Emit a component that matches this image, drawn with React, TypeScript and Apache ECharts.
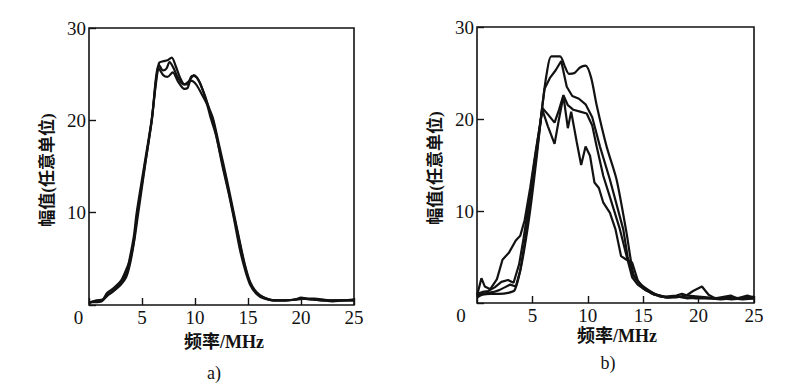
import React, { useEffect, useRef } from "react";
import * as echarts from "echarts";

// ---------- Panel a) ----------
const a1Freq = [0, 0.6, 1.2, 1.7, 2.3, 3.0, 3.5, 3.9, 4.25, 4.5, 5.2, 5.9, 6.6, 7.0, 7.4, 7.8, 8.2, 8.6, 9.0, 9.4, 9.9, 10.4, 10.9, 11.4, 11.7, 12.3, 13.0, 13.6, 14.2, 14.7, 15.2, 15.8, 16.5, 17.5, 18.5, 19.5, 20.0, 20.6, 21.3, 22.0, 23.0, 24.0, 25.0];
const a1Amp = [0.3, 0.4, 0.5, 1.0, 1.5, 2.4, 3.4, 5.4, 7.6, 10.0, 15.0, 20.0, 26.2, 26.4, 26.5, 26.8, 25.8, 24.6, 23.9, 24.2, 24.9, 24.2, 22.7, 21.0, 20.0, 16.8, 13.2, 10.0, 6.8, 4.2, 2.4, 1.3, 0.8, 0.5, 0.5, 0.6, 0.8, 0.7, 0.7, 0.6, 0.5, 0.5, 0.6];

const a2Freq = [0, 0.7, 1.3, 1.7, 2.3, 3.0, 3.5, 3.9, 4.25, 4.5, 5.2, 5.9, 6.6, 7.0, 7.3, 7.6, 8.0, 8.4, 8.9, 9.3, 9.7, 10.2, 10.8, 11.3, 11.7, 12.3, 13.0, 13.6, 14.2, 14.7, 15.2, 15.8, 16.5, 17.5, 18.5, 19.5, 20.2, 21.0, 22.0, 23.0, 24.0, 25.0];
const a2Amp = [0.2, 0.5, 0.6, 1.3, 1.8, 2.6, 3.8, 5.0, 7.0, 9.5, 14.6, 19.8, 26.0, 25.4, 25.6, 26.3, 25.6, 24.6, 23.9, 23.9, 24.8, 24.6, 23.1, 21.4, 20.2, 17.2, 13.6, 10.3, 7.0, 4.4, 2.5, 1.4, 0.8, 0.5, 0.5, 0.6, 0.7, 0.6, 0.5, 0.5, 0.5, 0.5];

const a3Freq = [0, 0.6, 1.2, 1.8, 2.4, 3.0, 3.5, 3.9, 4.3, 4.6, 5.3, 5.9, 6.6, 7.0, 7.4, 7.9, 8.4, 9.0, 9.3, 9.6, 10.1, 10.6, 11.1, 11.5, 12.0, 12.6, 13.2, 13.7, 14.2, 14.7, 15.2, 15.8, 16.5, 17.5, 18.5, 19.5, 20.3, 21.0, 22.0, 23.0, 24.0, 25.0];
const a3Amp = [0.3, 0.3, 0.4, 1.1, 1.6, 2.2, 3.0, 4.6, 7.2, 9.6, 15.2, 19.8, 25.6, 24.9, 24.7, 25.2, 24.2, 23.4, 23.5, 24.3, 23.9, 22.9, 21.8, 20.2, 18.3, 15.0, 12.0, 9.2, 6.2, 3.9, 2.2, 1.2, 0.7, 0.5, 0.5, 0.6, 0.7, 0.6, 0.5, 0.4, 0.5, 0.5];

// ---------- Panel b) ----------
const b1Freq = [0, 0.5, 1.2, 2.0, 2.8, 3.4, 3.9, 4.4, 4.9, 5.4, 5.9, 6.3, 6.7, 7.5, 7.9, 8.3, 8.8, 9.3, 9.8, 10.3, 10.8, 11.7, 12.6, 13.5, 14.1, 14.5, 15.0, 15.9, 16.5, 17.3, 18.0, 19.0, 20.0, 21.0, 22.0, 23.0, 24.0, 25.0];
const b1Amp = [0.6, 0.9, 1.0, 1.0, 1.1, 1.4, 3.5, 6.8, 11.0, 16.0, 21.5, 25.0, 26.8, 26.8, 25.8, 24.9, 25.0, 25.6, 25.8, 24.5, 21.5, 17.0, 13.4, 7.6, 3.2, 2.4, 1.8, 1.1, 0.8, 0.6, 0.7, 0.6, 0.5, 0.5, 0.5, 0.4, 0.5, 0.5];

const b2Freq = [0, 0.5, 1.0, 1.6, 2.2, 2.8, 3.3, 3.8, 4.2, 4.7, 5.2, 5.7, 6.1, 6.6, 7.1, 7.6, 8.1, 8.6, 9.2, 9.8, 10.4, 11.1, 12.0, 13.2, 13.6, 14.1, 14.6, 15.2, 16.0, 17.0, 18.0, 18.5, 19.0, 20.0, 21.0, 22.0, 23.0, 24.0, 25.0];
const b2Amp = [1.0, 1.2, 1.3, 1.7, 2.3, 2.5, 2.2, 4.2, 7.0, 11.0, 15.5, 19.5, 23.3, 24.5, 25.3, 26.3, 23.5, 22.5, 22.2, 21.6, 20.2, 17.0, 13.4, 8.0, 5.0, 3.0, 2.2, 1.5, 0.9, 0.7, 0.8, 1.0, 0.8, 0.7, 0.6, 0.5, 0.6, 0.5, 0.7];

const b3Freq = [0, 0.5, 1.0, 1.5, 2.0, 2.5, 3.0, 3.5, 3.9, 4.3, 4.8, 5.3, 5.9, 6.4, 7.0, 7.4, 7.8, 8.2, 8.7, 9.3, 9.9, 10.4, 10.8, 11.4, 12.0, 12.9, 13.5, 14.0, 14.5, 15.2, 16.0, 17.0, 18.0, 19.0, 19.5, 20.3, 20.9, 21.5, 22.9, 23.5, 24.4, 25.0];
const b3Amp = [0.8, 1.0, 1.1, 1.2, 1.4, 1.7, 2.0, 1.8, 3.5, 6.5, 11.0, 15.5, 21.2, 20.5, 19.6, 21.0, 22.6, 21.5, 21.0, 20.8, 20.6, 19.3, 17.0, 13.8, 11.5, 8.0, 5.1, 2.8, 2.0, 1.4, 1.0, 0.6, 0.6, 0.9, 1.3, 1.8, 0.9, 0.5, 0.8, 0.5, 0.8, 0.6];

const b4Freq = [0, 0.4, 0.7, 1.2, 1.8, 2.3, 2.9, 3.5, 3.9, 4.3, 4.8, 5.3, 5.9, 6.4, 7.0, 7.4, 7.8, 8.2, 8.5, 9.0, 9.4, 9.8, 10.2, 10.6, 11.0, 11.4, 12.0, 12.5, 13.0, 13.5, 14.0, 14.5, 15.0, 15.8, 16.5, 17.3, 18.2, 19.0, 20.0, 21.0, 22.0, 23.0, 24.0, 25.0];
const b4Amp = [0.8, 2.7, 1.8, 1.5, 2.6, 4.7, 5.5, 6.8, 7.3, 9.0, 12.5, 16.5, 21.0, 19.2, 17.3, 20.0, 22.5, 19.0, 20.8, 17.5, 15.0, 17.0, 16.0, 13.1, 12.5, 10.9, 9.8, 8.0, 5.1, 4.7, 4.4, 2.5, 1.6, 1.0, 0.7, 0.6, 0.7, 0.5, 0.6, 0.5, 0.4, 0.5, 0.4, 0.5];

const xTicks = [0, 5, 10, 15, 20, 25];
const yTicks = [0, 10, 20, 30];
const yName = "幅值(任意单位)";
const xName = "频率/MHz";
const panelNames = ["a)", "b)"];

const zip = (xs: number[], ys: number[]) => xs.map((x, i) => [x, ys[i]]);

const SERIF = "'Liberation Serif', 'DejaVu Serif', serif";
const CJK = "'Liberation Serif', 'Noto Sans CJK SC', serif";
const INK = "#121212";

function makeX(gridIndex: number, zeroShift: number) {
  return {
    gridIndex,
    type: "value",
    min: xTicks[0],
    max: xTicks[xTicks.length - 1],
    interval: xTicks[1] - xTicks[0],
    axisLine: { show: false },
    axisTick: { show: true, inside: true, length: 7, lineStyle: { color: INK, width: 1.4 } },
    splitLine: { show: false },
    axisLabel: {
      margin: 3,
      fontSize: 19,
      fontFamily: SERIF,
      color: INK,
      formatter: (v: number) => (v === 0 ? "{z|0}" : String(v)),
      rich: { z: { fontSize: 19, fontFamily: SERIF, color: INK, padding: [0, zeroShift, 0, 0] } },
    },
  };
}

function makeY(gridIndex: number) {
  return {
    gridIndex,
    type: "value",
    min: yTicks[0],
    max: yTicks[yTicks.length - 1],
    interval: yTicks[1] - yTicks[0],
    axisLine: { show: false },
    axisTick: { show: true, inside: true, length: 7, lineStyle: { color: INK, width: 1.4 } },
    splitLine: { show: false },
    axisLabel: {
      margin: 3,
      fontSize: 19,
      fontFamily: SERIF,
      color: INK,
      formatter: (v: number) => (v === 0 ? "" : String(v)),
    },
  };
}

function line(data: number[][], idx: number, smooth: number | boolean) {
  return {
    type: "line",
    xAxisIndex: idx,
    yAxisIndex: idx,
    data,
    showSymbol: false,
    smooth,
    lineStyle: { color: INK, width: 2.2 },
    itemStyle: { color: INK },
    silent: true,
  };
}

export default function App() {
  const ref = useRef<HTMLDivElement>(null);
  useEffect(() => {
    if (!ref.current) return;
    const chart = echarts.init(ref.current, null, { renderer: "svg" });
    chart.setOption({
      animation: false,
      backgroundColor: "#ffffff",
      grid: [
        { left: 89, right: 446, top: 28, bottom: 80, show: true, borderColor: INK, borderWidth: 1.6, backgroundColor: "transparent" },
        { left: 477, right: 46, top: 27, bottom: 82, show: true, borderColor: INK, borderWidth: 1.6, backgroundColor: "transparent" },
      ],
      xAxis: [makeX(0, 21), makeX(1, 32)],
      yAxis: [makeY(0), makeY(1)],
      series: [
        line(zip(a1Freq, a1Amp), 0, 0.3),
        line(zip(a2Freq, a2Amp), 0, 0.3),
        line(zip(a3Freq, a3Amp), 0, 0.3),
        line(zip(b1Freq, b1Amp), 1, 0.25),
        line(zip(b2Freq, b2Amp), 1, false),
        line(zip(b3Freq, b3Amp), 1, false),
        line(zip(b4Freq, b4Amp), 1, false),
      ],
      graphic: [
        { type: "text", x: 47, y: 170, rotation: Math.PI / 2, style: { text: yName, font: `bold 17px ${CJK}`, fill: INK, align: "center", verticalAlign: "middle" } },
        { type: "text", x: 435, y: 168, rotation: Math.PI / 2, style: { text: yName, font: `bold 17px ${CJK}`, fill: INK, align: "center", verticalAlign: "middle" } },
        { type: "text", x: 224, y: 342, style: { text: xName, font: `bold 18px ${CJK}`, fill: INK, align: "center", verticalAlign: "middle" } },
        { type: "text", x: 617, y: 336, style: { text: xName, font: `bold 18px ${CJK}`, fill: INK, align: "center", verticalAlign: "middle" } },
        { type: "text", x: 214, y: 373, style: { text: panelNames[0], font: `18px ${SERIF}`, fill: INK, align: "center", verticalAlign: "middle" } },
        { type: "text", x: 608, y: 363, style: { text: panelNames[1], font: `18px ${SERIF}`, fill: INK, align: "center", verticalAlign: "middle" } },
      ],
    });
    return () => chart.dispose();
  }, []);
  return <div ref={ref} style={{ width: 800, height: 385, position: "absolute", left: 0, top: 0 }} />;
}
